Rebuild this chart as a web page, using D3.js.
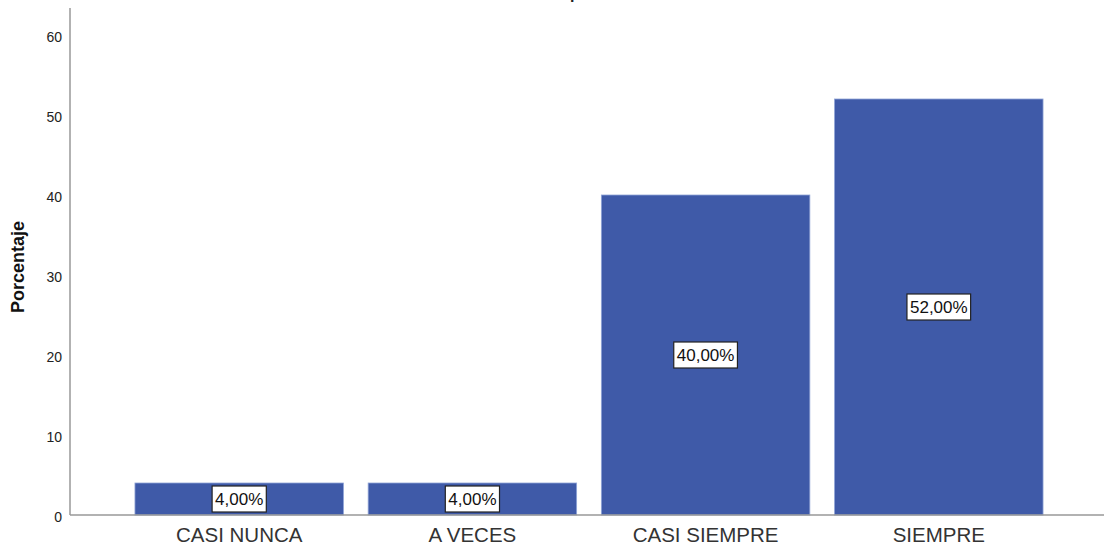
<!DOCTYPE html>
<html>
<head>
<meta charset="utf-8">
<script src="https://cdn.jsdelivr.net/npm/d3@7"></script>
<style>
  html, body { margin: 0; padding: 0; background: #fff; }
  svg { display: block; font-family: Arial, "Liberation Sans", sans-serif; }
</style>
</head>
<body>
<svg id="chart" width="1104" height="548"></svg>
<script>
(function () {
  'use strict';

  /* Données */
  var categories = ['CASI NUNCA', 'A VECES', 'CASI SIEMPRE', 'SIEMPRE'];
  var values     = [4, 4, 40, 52];
  var labels     = ['4,00%', '4,00%', '40,00%', '52,00%'];
  var yTicks     = [0, 10, 20, 30, 40, 50, 60];

  var W = 1104, H = 548;
  var left = 70, bottom = 515, top = 35;

  var svg = d3.select('#chart');

  var x = d3.scaleBand()
    .domain(categories)
    .range([left + 2, W + 2])
    .paddingInner(0.106)
    .paddingOuter(0.27);

  var y = d3.scaleLinear()
    .domain([0, 60])
    .range([bottom, top]);

  /* titre coupé en haut (seul le jambage est visible) */
  svg.append('text')
    .attr('x', 570).attr('y', -1)
    .attr('font-size', 16).attr('font-weight', 'bold')
    .attr('fill', '#222')
    .text('p');

  /* barres */
  svg.selectAll('rect.bar')
    .data(values)
    .enter().append('rect')
    .attr('class', 'bar')
    .attr('x', function (d, i) { return x(categories[i]); })
    .attr('y', function (d) { return y(d); })
    .attr('width', x.bandwidth())
    .attr('height', function (d) { return y(0) - y(d); })
    .attr('fill', '#3f5aa8')
    .attr('stroke', '#8fa3d6')
    .attr('stroke-width', 0.8);

  /* axe Y */
  var yAxis = d3.axisLeft(y).tickValues(yTicks).tickSize(0).tickPadding(8);
  var gy = svg.append('g').attr('transform', 'translate(' + left + ',0)').call(yAxis);
  gy.select('.domain').remove();
  gy.selectAll('text').attr('font-size', 14).attr('fill', '#222')
    .attr('dy', '0.45em')
    .attr('font-family', '"Liberation Sans Narrow", Arial, sans-serif');
  svg.append('line')
    .attr('x1', left).attr('x2', left)
    .attr('y1', 8).attr('y2', bottom)
    .attr('stroke', '#999').attr('stroke-width', 1.5);

  /* axe X */
  var xAxis = d3.axisBottom(x).tickSize(0).tickPadding(12);
  var gx = svg.append('g').attr('transform', 'translate(0,' + bottom + ')').call(xAxis);
  gx.select('.domain').remove();
  gx.selectAll('text').attr('font-size', 20.5).attr('fill', '#333');
  svg.append('line')
    .attr('x1', left).attr('x2', W)
    .attr('y1', bottom).attr('y2', bottom)
    .attr('stroke', '#999').attr('stroke-width', 1.5);

  /* titre axe Y */
  svg.append('text')
    .attr('transform', 'translate(24,' + 267 + ') rotate(-90)')
    .attr('text-anchor', 'middle')
    .attr('font-size', 18).attr('font-weight', 'bold')
    .attr('fill', '#111')
    .text('Porcentaje');

  /* étiquettes de valeur */
  var lab = svg.selectAll('g.lab')
    .data(values)
    .enter().append('g')
    .attr('class', 'lab')
    .attr('transform', function (d, i) {
      return 'translate(' + (x(categories[i]) + x.bandwidth() / 2) + ',' + y(d / 2) + ')';
    });

  lab.append('text')
    .attr('text-anchor', 'middle')
    .attr('dy', '0.36em')
    .attr('font-size', 17)
    .attr('fill', '#111')
    .text(function (d, i) { return labels[i]; });

  lab.each(function () {
    var g = d3.select(this);
    var bb = g.select('text').node().getBBox();
    g.insert('rect', 'text')
      .attr('x', bb.x - 3).attr('y', -13)
      .attr('width', bb.width + 6).attr('height', 26)
      .attr('fill', '#fff')
      .attr('stroke', '#222').attr('stroke-width', 1.2);
  });
})();
</script>
</body>
</html>
